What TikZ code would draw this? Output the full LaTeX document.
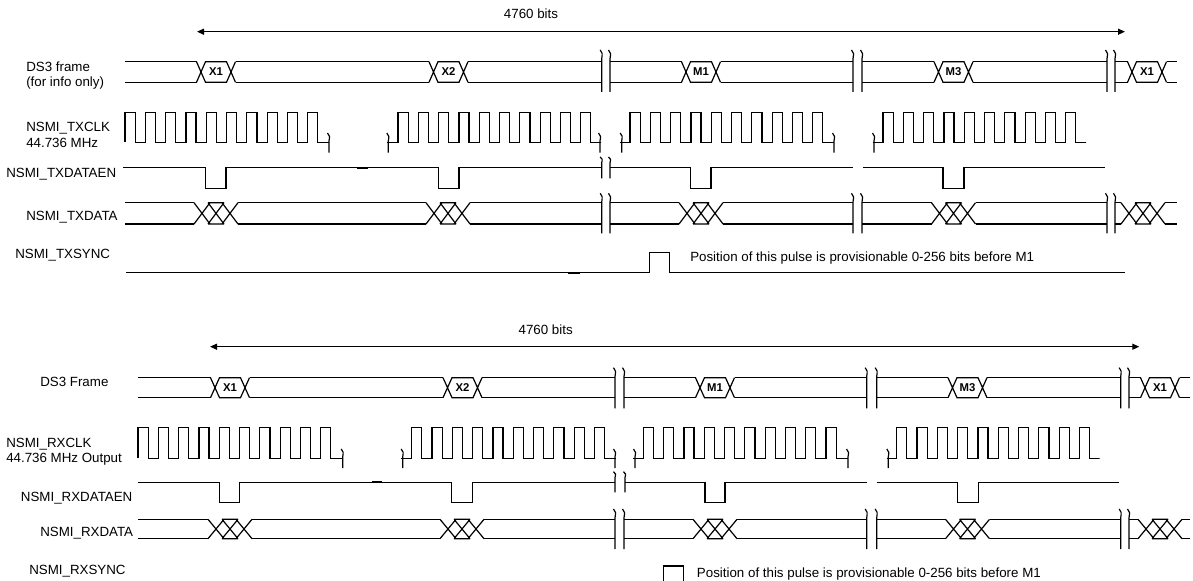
\documentclass[tikz,border=0pt]{standalone}
\usepackage{fontspec}
\setmainfont{Liberation Sans}
\usetikzlibrary{arrows.meta}

\begin{document}
\begin{tikzpicture}[x=0.75pt,y=-0.75pt]
\tikzset{
  wave/.style={line width=0.9pt},
  heavybit/.style={line width=1.5pt},
  sigtext/.style={inner sep=0pt,font=\fontsize{10}{12}\selectfont},
  hextext/.style={inner sep=0pt,font=\bfseries\fontsize{8.5}{9}\selectfont},
  span/.style={{Triangle[length=5.25pt,width=4.5pt]}-{Triangle[length=5.25pt,width=4.5pt]},line width=0.9pt}
}
\useasboundingbox (0,0) rectangle (1193,581);
% transmit side
\coordinate (tx_l) at (197,31.7);
\coordinate (tx_r) at (1125,31.7);
\draw[span] (tx_l) -- (tx_r);
\node[sigtext,anchor=base] (tx_bits) at (531,18.3) {4760 bits};
\node[sigtext,anchor=base west] (lbl_txds3) at (26,71.7) {DS3 frame};
\node[sigtext,anchor=base west] (lbl_txinfo) at (26,87) {(for info only)};
\node[sigtext,anchor=base west] (lbl_txclk) at (26,132) {NSMI\_TXCLK};
\node[sigtext,anchor=base west] (lbl_txfreq) at (26,147.3) {44.736 MHz};
\node[sigtext,anchor=base west] (lbl_txen) at (6,177.3) {NSMI\_TXDATAEN};
\node[sigtext,anchor=base west] (lbl_txdata) at (26,221) {NSMI\_TXDATA};
\node[sigtext,anchor=base west] (lbl_txsync) at (15,258.3) {NSMI\_TXSYNC};
\node[sigtext,anchor=base west] (tx_note) at (690,261.7) {Position of this pulse is provisionable 0-256 bits before M1};
\foreach \a/\b/\cs in {125/601.7/{216,448.5},610/853/{701},862/1107/{953.5},1115/1177/{1147}} {
  \draw[wave] (\a,61.7) \foreach \c in \cs {-- ({\c-19.5},61.7) ({\c+19.5},61.7)} -- (\b,61.7);
  \draw[wave] (\a,82.3) \foreach \c in \cs {-- ({\c-19.5},82.3) ({\c+19.5},82.3)} -- (\b,82.3);
}
\foreach \c/\t [count=\i] in {216/X1,448.5/X2,701/M1,953.5/M3,1147/X1} {
  \draw[wave] ({\c-19.5},61.7) -- ({\c-10.5},82.3) -- ({\c+10.5},82.3) -- ({\c+19.5},61.7)
              ({\c-19.5},82.3) -- ({\c-10.5},61.7) -- ({\c+10.5},61.7) -- ({\c+19.5},82.3);
  \node[hextext] (txhex\i) at (\c,72) {\t};
}
\foreach \x in {601.7,610,853,862,1107,1115} {
  \draw[wave] ({\x-1.5},50) .. controls ({\x+0.8},53) .. (\x,59) -- (\x,92);
  \draw[wave] ({\x-1.5},193.3) .. controls ({\x+0.8},196.3) .. (\x,202.3) -- (\x,233.3);
}
\foreach \s/\p/\e in {125/125/329,386.5/398/600,620/630/834,872.5/883/1085} {
  \draw[wave] (\s,142.5) -- (\p,142.5) \foreach \k in {0,...,9} {-- ++(0,-30.2) -- ++(10.15,0) -- ++(0,30.2) -- ++(10.15,0)} -- (\e,142.5);
}
\foreach \x in {329,388.3,600,621.7,834,874}
  \draw[wave] ({\x-1.5},133) .. controls ({\x+0.8},136) .. (\x,141) -- (\x,152.7);
\foreach \a/\b/\ps in {123/601.7/{205.7/226,438.3/459},610/853/{690.7/711},862.7/1105/{943/964}} {
  \draw[wave] (\a,167.7) \foreach \p/\q in \ps {-- (\p,167.7) -- (\p,188.3) -- (\q,188.3) -- (\q,167.7)} -- (\b,167.7);
}
\foreach \x in {601.7,610}
  \draw[wave] ({\x-1.5},157) .. controls ({\x+0.8},159) .. (\x,163) -- (\x,178.3);
\draw[heavybit] (356.7,167.7) -- (368.3,167.7);
\foreach \a/\b/\cs in {125/601.7/{216,448},610/853/{701},862/1107/{953.5},1115/1177/{1143}} {
  \draw[wave] (\a,202.7) \foreach \c in \cs {-- ({\c-22},202.7) ({\c+22},202.7)} -- (\b,202.7);
  \draw[wave] (\a,224) \foreach \c in \cs {-- ({\c-22},224) ({\c+22},224)} -- (\b,224);
}
\foreach \c in {216,448,701,953.5,1143} {
  \draw[wave] ({\c-22},202.7) -- ({\c-6},224) ({\c-8},202.7) -- ({\c+8},224) ({\c+6},202.7) -- ({\c+22},224)
              ({\c-22},224) -- ({\c-6},202.7) ({\c-8},224) -- ({\c+8},202.7) ({\c+6},224) -- ({\c+22},202.7)
              ({\c-8},202.7) -- ({\c+8},202.7) ({\c-8},224) -- ({\c+8},224);
}
\draw[wave] (126,272.7) -- (649.3,272.7) -- (649.3,252.3) -- (669.3,252.3) -- (669.3,272.7) -- (1125,272.7);
\draw[heavybit] (568,272.7) -- (580,272.7);
% receive side
\coordinate (rx_l) at (210,346.7);
\coordinate (rx_r) at (1139.3,346.7);
\draw[span] (rx_l) -- (rx_r);
\node[sigtext,anchor=base] (rx_bits) at (545.7,334) {4760 bits};
\node[sigtext,anchor=base west] (lbl_rxds3) at (40,386) {DS3 Frame};
\node[sigtext,anchor=base west] (lbl_rxclk) at (6,447.7) {NSMI\_RXCLK};
\node[sigtext,anchor=base west] (lbl_rxfreq) at (6,462) {44.736 MHz Output};
\node[sigtext,anchor=base west] (lbl_rxen) at (20.7,501.7) {NSMI\_RXDATAEN};
\node[sigtext,anchor=base west] (lbl_rxdata) at (40,536.7) {NSMI\_RXDATA};
\node[sigtext,anchor=base west] (lbl_rxsync) at (29,574) {NSMI\_RXSYNC};
\node[sigtext,anchor=base west] (rx_note) at (696.7,577.3) {Position of this pulse is provisionable 0-256 bits before M1};
\foreach \a/\b/\cs in {138/615/{230,462.5},624/866.7/{715},876.7/1120.7/{967.5},1129/1190/{1160}} {
  \draw[wave] (\a,377.7) \foreach \c in \cs {-- ({\c-19.5},377.7) ({\c+19.5},377.7)} -- (\b,377.7);
  \draw[wave] (\a,397.7) \foreach \c in \cs {-- ({\c-19.5},397.7) ({\c+19.5},397.7)} -- (\b,397.7);
}
\foreach \c/\t [count=\i] in {230/X1,462.5/X2,715/M1,967.5/M3,1160/X1} {
  \draw[wave] ({\c-19.5},377.7) -- ({\c-10.5},397.7) -- ({\c+10.5},397.7) -- ({\c+19.5},377.7)
              ({\c-19.5},397.7) -- ({\c-10.5},377.7) -- ({\c+10.5},377.7) -- ({\c+19.5},397.7);
  \node[hextext] (rxhex\i) at (\c,387.7) {\t};
}
\foreach \x in {615,624,866.7,876.7,1120.7,1129} {
  \draw[wave] ({\x-1.5},367.7) .. controls ({\x+0.8},370.7) .. (\x,376.7) -- (\x,408.3);
  \draw[wave] ({\x-1.5},509) .. controls ({\x+0.8},512) .. (\x,518) -- (\x,549);
}
\foreach \s/\p/\e in {138/138/342.7,401/411.7/615,633.3/643.3/848,886.6/896.7/1099.3} {
  \draw[wave] (\s,458.3) -- (\p,458.3) \foreach \k in {0,...,9} {-- ++(0,-30.6) -- ++(10.15,0) -- ++(0,30.6) -- ++(10.15,0)} -- (\e,458.3);
}
\foreach \x in {342.7,402.7,615,635,848,888.3}
  \draw[wave] ({\x-1.5},449) .. controls ({\x+0.8},452) .. (\x,457) -- (\x,468);
\foreach \a/\b/\ps in {138/615/{219.3/239.3,451.7/472.3},625/866.7/{705/725},876.7/1119.3/{957.3/978.3}} {
  \draw[wave] (\a,482.3) \foreach \p/\q in \ps {-- (\p,482.3) -- (\p,502.3) -- (\q,502.3) -- (\q,482.3)} -- (\b,482.3);
}
\foreach \x in {615,625}
  \draw[wave] ({\x-1.5},471.7) .. controls ({\x+0.8},473.7) .. (\x,477.7) -- (\x,492.3);
\draw[heavybit] (371.7,482.3) -- (381.7,482.3);
\foreach \a/\b/\cs in {138/615/{230,462},624/866.7/{715},876.7/1120.7/{967.5},1129/1190/{1160}} {
  \draw[wave] (\a,519.3) \foreach \c in \cs {-- ({\c-22},519.3) ({\c+22},519.3)} -- (\b,519.3);
  \draw[wave] (\a,538.7) \foreach \c in \cs {-- ({\c-22},538.7) ({\c+22},538.7)} -- (\b,538.7);
}
\foreach \c in {230,462,715,967.5,1160} {
  \draw[wave] ({\c-22},519.3) -- ({\c-6},538.7) ({\c-8},519.3) -- ({\c+8},538.7) ({\c+6},519.3) -- ({\c+22},538.7)
              ({\c-22},538.7) -- ({\c-6},519.3) ({\c-8},538.7) -- ({\c+8},519.3) ({\c+6},538.7) -- ({\c+22},519.3)
              ({\c-8},519.3) -- ({\c+8},519.3) ({\c-8},538.7) -- ({\c+8},538.7);
}
\draw[wave] (663.3,581) -- (663.3,566) -- (683.3,566) -- (683.3,581);
\end{tikzpicture}
\end{document}
